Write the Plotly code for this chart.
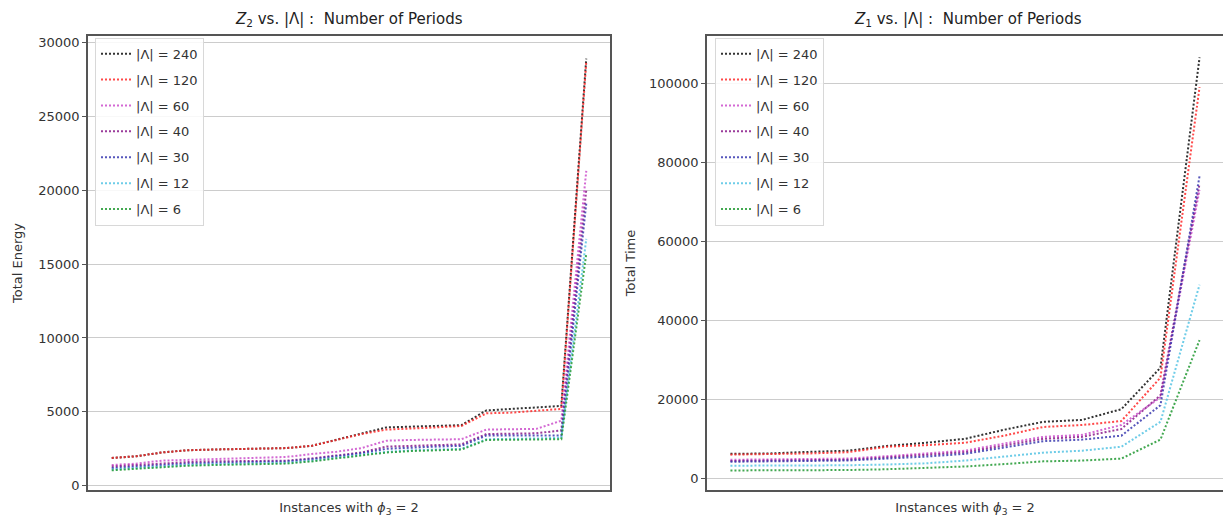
import plotly.graph_objects as go

W, H = 1223, 519

# ---------------- data ----------------
labels = ["|Λ| = 240", "|Λ| = 120", "|Λ| = 60", "|Λ| = 40", "|Λ| = 30", "|Λ| = 12", "|Λ| = 6"]
colors = ["#111111", "#ff2a2a", "#cc4fcc", "#8a1a8a", "#3a3ab0", "#55c4e4", "#229a33"]

# Left: Z2 total energy (20 instances)
energy_240 = [1880, 2000, 2250, 2400, 2450, 2480, 2500, 2550, 2700, 3100, 3550, 3950, 4000, 4050, 4100, 5100, 5200, 5300, 5400, 28900]
energy_120 = [1880, 2000, 2250, 2400, 2450, 2480, 2500, 2550, 2700, 3100, 3500, 3800, 3850, 3950, 4050, 4900, 4950, 5050, 5200, 28700]
energy_60 = [1400, 1500, 1700, 1750, 1800, 1850, 1900, 1950, 2150, 2300, 2550, 3050, 3100, 3150, 3150, 3800, 3800, 3850, 4400, 21300]
energy_40 = [1300, 1400, 1550, 1600, 1650, 1680, 1700, 1700, 1850, 2050, 2250, 2650, 2700, 2750, 2800, 3500, 3500, 3550, 3750, 20000]
energy_30 = [1200, 1300, 1450, 1500, 1550, 1600, 1650, 1650, 1800, 2000, 2200, 2500, 2600, 2650, 2700, 3400, 3400, 3400, 3400, 19100]
energy_12 = [1100, 1200, 1350, 1400, 1450, 1500, 1550, 1550, 1700, 1900, 2050, 2300, 2400, 2450, 2500, 3150, 3150, 3200, 3250, 16700]
energy_6 = [1050, 1150, 1300, 1350, 1400, 1450, 1500, 1500, 1650, 1850, 2000, 2250, 2350, 2400, 2450, 3100, 3100, 3100, 3150, 15700]

# Right: Z1 total time (13 instances)
time_240 = [6200, 6300, 6700, 7000, 8200, 9000, 10000, 12300, 14300, 14800, 17500, 28000, 106500]
time_120 = [6000, 6100, 6300, 6600, 8000, 8400, 9000, 10800, 13000, 13500, 14500, 25500, 99000]
time_60 = [4700, 4800, 4900, 5000, 5600, 6300, 7000, 8800, 10500, 11000, 13500, 20500, 73000]
time_40 = [4400, 4500, 4600, 4700, 5300, 5900, 6600, 8300, 10000, 10500, 12500, 21000, 74500]
time_30 = [4200, 4300, 4400, 4500, 5000, 5500, 6200, 7800, 9400, 9800, 10800, 18500, 76500]
time_12 = [3200, 3200, 3300, 3300, 3500, 3800, 4500, 5500, 6500, 7000, 8000, 14300, 49000]
time_6 = [2000, 2000, 2000, 2100, 2300, 2700, 3000, 3600, 4300, 4500, 5000, 9800, 35000]

energy = [energy_240, energy_120, energy_60, energy_40, energy_30, energy_12, energy_6]
times = [time_240, time_120, time_60, time_40, time_30, time_12, time_6]

energy_ticks = [0, 5000, 10000, 15000, 20000, 25000, 30000]
time_ticks = [0, 20000, 40000, 60000, 80000, 100000]

# ---------------- figure ----------------
fig = go.Figure()
font = "DejaVu Sans"
DOT = "2px,2px"

for lab, col, ys in zip(labels, colors, energy):
    fig.add_trace(go.Scatter(
        x=list(range(len(ys))), y=ys, mode="lines", name=lab,
        line=dict(color=col, width=2, dash=DOT), opacity=0.85,
        xaxis="x", yaxis="y", legend="legend", legendgroup="L" + lab))

for lab, col, ys in zip(labels, colors, times):
    fig.add_trace(go.Scatter(
        x=list(range(len(ys))), y=ys, mode="lines", name=lab,
        line=dict(color=col, width=2, dash=DOT), opacity=0.85,
        xaxis="x2", yaxis="y2", legend="legend2", legendgroup="R" + lab))

def px(v):
    return v / W

def py(v):
    return 1 - v / H

ydom = [py(493), py(35)]
axis_line = dict(showline=True, linecolor="#555555", linewidth=1.5)
tickfont = dict(family=font, size=13, color="#333333")
txtfont = dict(family=font, size=13, color="#333333")

n_e = len(energy_240)
n_t = len(time_240)

fig.update_layout(
    width=W, height=H,
    margin=dict(l=0, r=0, t=0, b=0),
    paper_bgcolor="white", plot_bgcolor="white",
    font=dict(family=font, size=13, color="#333333"),
    xaxis=dict(domain=[px(88), px(610)], range=[-0.05 * (n_e - 1), (n_e - 1) * 1.05],
               showticklabels=False, ticks="", showgrid=False, zeroline=False, mirror=True,
               title=dict(text="Instances with <i>ϕ</i><sub>3</sub> = 2", font=txtfont, standoff=12),
               anchor="y", **axis_line),
    yaxis=dict(domain=ydom, range=[-300, 30450], tickvals=energy_ticks, tickformat="d",
               ticks="outside", ticklen=4, tickcolor="#555555", tickfont=tickfont,
               showgrid=True, gridcolor="#cccccc", gridwidth=1, zeroline=False, mirror=True,
               title=dict(text="Total Energy", font=txtfont, standoff=13),
               anchor="x", **axis_line),
    xaxis2=dict(domain=[px(707), 1.0], range=[-0.05 * (n_t - 1), (n_t - 1) * 1.05],
                showticklabels=False, ticks="", showgrid=False, zeroline=False, mirror=True,
                title=dict(text="Instances with <i>ϕ</i><sub>3</sub> = 2", font=txtfont, standoff=12),
                anchor="y2", **axis_line),
    yaxis2=dict(domain=ydom, range=[-3000, 112000], tickvals=time_ticks, tickformat="d",
                ticks="outside", ticklen=4, tickcolor="#555555", tickfont=tickfont,
                showgrid=True, gridcolor="#cccccc", gridwidth=1, zeroline=False, mirror=False,
                title=dict(text="Total Time", font=txtfont, standoff=10),
                anchor="x2", **axis_line),
    legend=dict(x=px(95), y=py(37), xanchor="left", yanchor="top",
                bgcolor="rgba(255,255,255,0.85)", bordercolor="#d8d8d8", borderwidth=1,
                font=txtfont, tracegroupgap=6, itemwidth=30),
    legend2=dict(x=px(715), y=py(37), xanchor="left", yanchor="top",
                 bgcolor="rgba(255,255,255,0.85)", bordercolor="#d8d8d8", borderwidth=1,
                 font=txtfont, tracegroupgap=6, itemwidth=30),
    annotations=[
        dict(text="<i>Z</i><sub>2</sub> vs. |Λ| :  Number of Periods", x=(px(88) + px(610)) / 2, y=py(19),
             xref="paper", yref="paper", showarrow=False, xanchor="center", yanchor="middle",
             font=dict(family=font, size=15, color="#222222")),
        dict(text="<i>Z</i><sub>1</sub> vs. |Λ| :  Number of Periods", x=(px(707) + px(1229)) / 2, y=py(19),
             xref="paper", yref="paper", showarrow=False, xanchor="center", yanchor="middle",
             font=dict(family=font, size=15, color="#222222")),
    ],
)

fig.write_html("out.html")
